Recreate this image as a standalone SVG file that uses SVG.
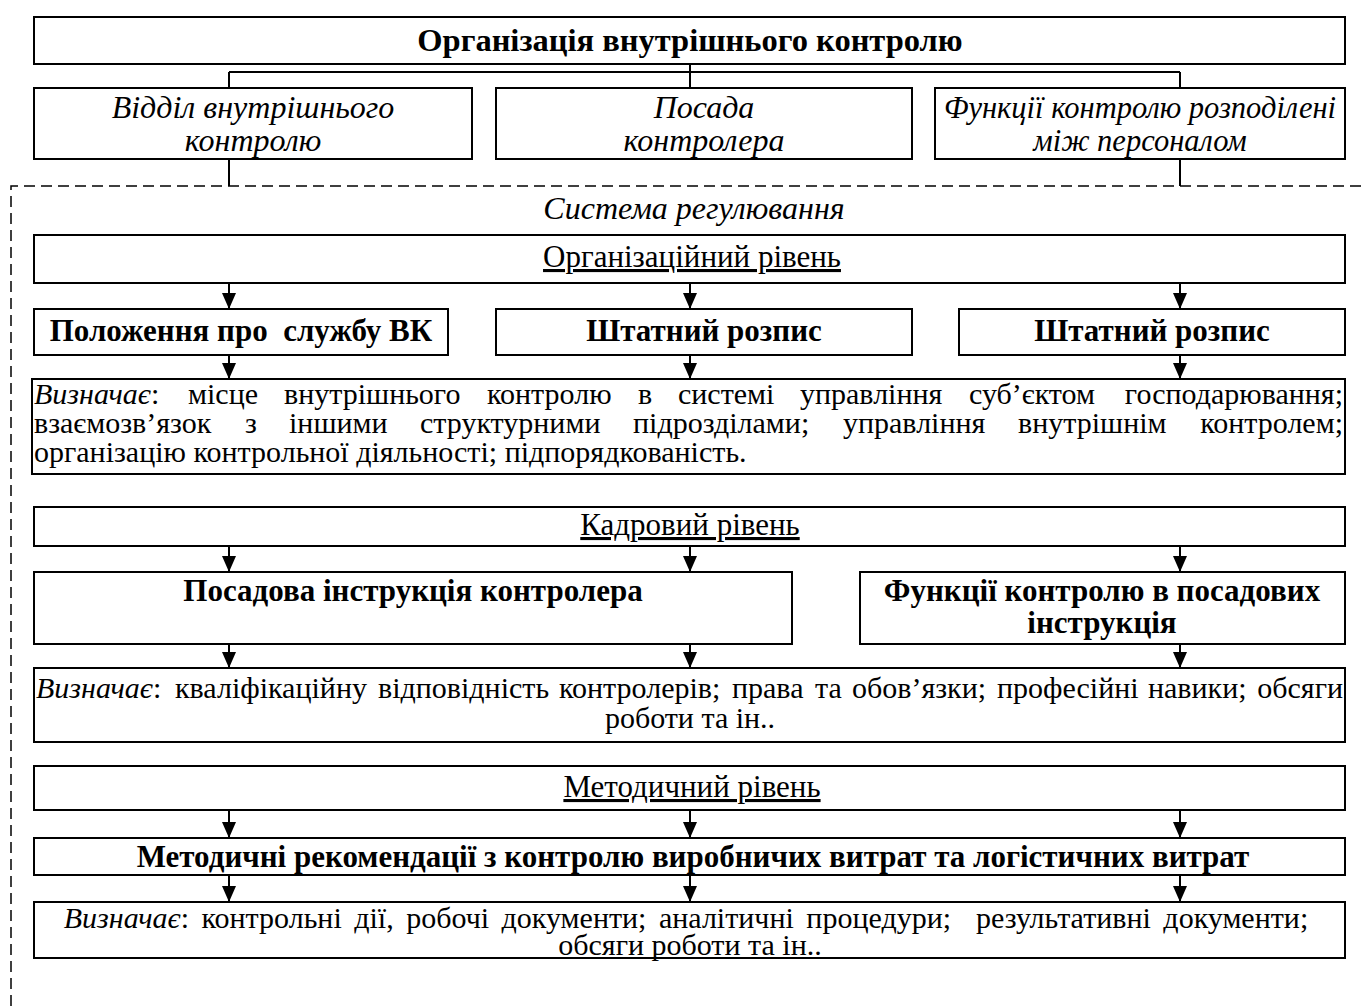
<svg xmlns="http://www.w3.org/2000/svg" width="1364" height="1006" viewBox="0 0 1364 1006">
<style>
.bx{fill:#fff;stroke:#000;stroke-width:2}
.t{font-family:"Liberation Serif","Times New Roman",serif;fill:#000;font-size:30px}
.c{text-anchor:middle}
.e{text-anchor:end}
.b{font-weight:bold;font-size:31px}
.i{font-style:italic}
.s{font-size:32px}
.u{text-decoration:underline;font-size:31px}
.ln{stroke:#000;stroke-width:2;fill:none}
.ar{stroke:#000;stroke-width:2;fill:none;marker-end:url(#ah)}
.dash{stroke:#000;stroke-width:1.5;fill:none;stroke-dasharray:11 6}
</style>
<defs>
<marker id="ah" markerUnits="userSpaceOnUse" markerWidth="16" markerHeight="14" refX="16" refY="7" orient="auto">
<path d="M0,0 L16,7 L0,14 z" fill="#000"/>
</marker>
</defs>
<rect width="1364" height="1006" fill="#fff"/>

<g id="connectors">
<path class="ln" d="M690,64 V88 M229,72 H1180 M229,72 V88 M1180,72 V88 M229,159 V186 M1180,159 V186"/>
<path class="dash" d="M11,1006 V186 H1364"/>
<line class="ar" x1="229" y1="283" x2="229" y2="309"/>
<line class="ar" x1="690" y1="283" x2="690" y2="309"/>
<line class="ar" x1="1180" y1="283" x2="1180" y2="309"/>
<line class="ar" x1="229" y1="355" x2="229" y2="379"/>
<line class="ar" x1="690" y1="355" x2="690" y2="379"/>
<line class="ar" x1="1180" y1="355" x2="1180" y2="379"/>
<line class="ar" x1="229" y1="546" x2="229" y2="572"/>
<line class="ar" x1="690" y1="546" x2="690" y2="572"/>
<line class="ar" x1="1180" y1="546" x2="1180" y2="572"/>
<line class="ar" x1="229" y1="644" x2="229" y2="668"/>
<line class="ar" x1="690" y1="644" x2="690" y2="668"/>
<line class="ar" x1="1180" y1="644" x2="1180" y2="668"/>
<line class="ar" x1="229" y1="810" x2="229" y2="838"/>
<line class="ar" x1="690" y1="810" x2="690" y2="838"/>
<line class="ar" x1="1180" y1="810" x2="1180" y2="838"/>
<line class="ar" x1="229" y1="875" x2="229" y2="902"/>
<line class="ar" x1="690" y1="875" x2="690" y2="902"/>
<line class="ar" x1="1180" y1="875" x2="1180" y2="902"/>
</g>

<g id="n-title">
<rect class="bx" x="34" y="17" width="1311" height="47"/>
<text class="t c b" x="690" y="51" style="font-size:32.5px">Організація внутрішнього контролю</text>
</g>

<g id="n-viddil">
<rect class="bx" x="34" y="88" width="438" height="71"/>
<text class="t c i s" x="253" y="118">Відділ внутрішнього</text>
<text class="t c i s" x="253" y="151">контролю</text>
</g>
<g id="n-posada">
<rect class="bx" x="496" y="88" width="416" height="71"/>
<text class="t c i s" x="704" y="118">Посада</text>
<text class="t c i s" x="704" y="151">контролера</text>
</g>
<g id="n-funktsii">
<rect class="bx" x="935" y="88" width="410" height="71"/>
<text class="t c i" x="1140" y="118" style="font-size:30.5px">Функції контролю розподілені</text>
<text class="t c i" x="1140" y="151" style="font-size:30.5px">між персоналом</text>
</g>

<g id="n-systema">
<text class="t c i s" x="694" y="219">Система регулювання</text>
</g>

<g id="n-org">
<rect class="bx" x="34" y="235" width="1311" height="48"/>
<text class="t c u" x="692" y="267">Організаційний рівень</text>
</g>

<g id="n-polozhennia">
<rect class="bx" x="34" y="309" width="414" height="46"/>
<text class="t c b" x="241" y="341" xml:space="preserve">Положення про  службу ВК</text>
</g>
<g id="n-shtat1">
<rect class="bx" x="496" y="309" width="416" height="46"/>
<text class="t c b" x="704" y="341">Штатний розпис</text>
</g>
<g id="n-shtat2">
<rect class="bx" x="959" y="309" width="386" height="46"/>
<text class="t c b" x="1152" y="341">Штатний розпис</text>
</g>

<g id="n-vyznachaie1">
<rect class="bx" x="32" y="379" width="1313" height="95"/>
<text class="t" y="404"><tspan x="34" class="i">Визначає</tspan><tspan>:</tspan><tspan x="188">місце</tspan><tspan x="284">внутрішнього</tspan><tspan x="487">контролю</tspan><tspan x="638">в</tspan><tspan x="678">системі</tspan><tspan x="800">управління</tspan><tspan x="969">суб’єктом</tspan></text>
<text class="t e" x="1343" y="404">господарювання;</text>
<text class="t" y="433"><tspan x="34">взаємозв’язок</tspan><tspan x="245">з</tspan><tspan x="289">іншими</tspan><tspan x="420">структурними</tspan><tspan x="633">підрозділами;</tspan><tspan x="843">управління</tspan><tspan x="1018">внутрішнім</tspan></text>
<text class="t e" x="1343" y="433">контролем;</text>
<text class="t" x="34" y="462">організацію контрольної діяльності; підпорядкованість.</text>
</g>

<g id="n-kadr">
<rect class="bx" x="34" y="507" width="1311" height="39"/>
<text class="t c u" x="690" y="535">Кадровий рівень</text>
</g>

<g id="n-instr">
<rect class="bx" x="34" y="572" width="758" height="72"/>
<text class="t c b" x="413" y="601">Посадова інструкція контролера</text>
</g>
<g id="n-funk-instr">
<rect class="bx" x="860" y="572" width="485" height="72"/>
<text class="t c b" x="1102" y="601">Функції контролю в посадових</text>
<text class="t c b" x="1102" y="633">інструкція</text>
</g>

<g id="n-vyznachaie2">
<rect class="bx" x="34" y="668" width="1311" height="74"/>
<text class="t" y="698"><tspan x="36" class="i">Визначає</tspan><tspan>:</tspan><tspan x="175">кваліфікаційну</tspan><tspan x="378">відповідність</tspan><tspan x="559">контролерів;</tspan><tspan x="732">права</tspan><tspan x="815">та</tspan><tspan x="852">обов’язки;</tspan><tspan x="997">професійні</tspan><tspan x="1148">навики;</tspan></text>
<text class="t e" x="1343" y="698">обсяги</text>
<text class="t c" x="690" y="728">роботи та ін..</text>
</g>

<g id="n-metod">
<rect class="bx" x="34" y="766" width="1311" height="44"/>
<text class="t c u" x="692" y="797">Методичний рівень</text>
</g>

<g id="n-rekom">
<rect class="bx" x="34" y="838" width="1311" height="37"/>
<text class="t c b" x="693" y="867">Методичні рекомендації з контролю виробничих витрат та логістичних витрат</text>
</g>

<g id="n-vyznachaie3">
<rect class="bx" x="34" y="902" width="1311" height="56"/>
<text class="t c" x="686" y="928" xml:space="preserve" style="word-spacing:5px"><tspan class="i">Визначає</tspan>: контрольні дії, робочі документи; аналітичні процедури;  результативні документи;</text>
<text class="t c" x="690" y="955">обсяги роботи та ін..</text>
</g>
</svg>
